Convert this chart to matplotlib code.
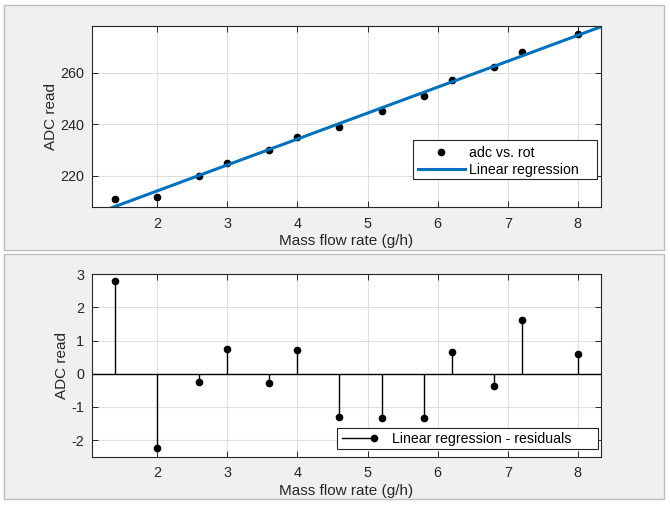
import numpy as np
import matplotlib
matplotlib.use("Agg")
import matplotlib.pyplot as plt
from matplotlib.patches import Rectangle
from matplotlib.lines import Line2D
from matplotlib.legend_handler import HandlerBase

plt.rcParams['font.family'] = ['Liberation Sans', 'DejaVu Sans']
plt.rcParams['axes.unicode_minus'] = False  # MATLAB-style "-2" ticks

# data
flow = np.array([1.4, 2.0, 2.6, 3.0, 3.6, 4.0, 4.6, 5.2, 5.8, 6.2, 6.8, 7.2, 8.0])  # g/h
adc = np.array([211, 212, 220, 225, 230, 235, 239, 245, 251, 257, 262, 268, 275])

# linear regression + residuals
slope, icpt = np.polyfit(flow, adc, 1)
resid = adc - (slope * flow + icpt)

xlim = (flow.min() - 0.05 * np.ptp(flow), flow.max() + 0.05 * np.ptp(flow))
xfit = np.linspace(xlim[0], xlim[1], 100)

W, H = 670, 507
fig = plt.figure(figsize=(W / 100, H / 100), dpi=100)
fig.patch.set_facecolor('white')

# grey panels behind each plot
for top, bot in [(5, 250), (254, 499)]:
    fig.add_artist(Rectangle((4 / W, 1 - bot / H), 660 / W, (bot - top) / H,
                             transform=fig.transFigure, facecolor='#f0f0f0',
                             edgecolor='#bdbdbd', linewidth=1.0, zorder=-10))

dark = '#262626'


def style(ax):
    ax.set_xlim(*xlim)
    ax.set_xticks([2, 3, 4, 5, 6, 7, 8])
    ax.grid(True, color='#dfdfdf', linewidth=0.8)
    ax.set_axisbelow(True)
    ax.tick_params(direction='in', length=4, width=0.7, colors=dark, labelsize=10.4,
                   top=True, right=True)
    ax.tick_params(axis='x', pad=7)
    ax.tick_params(axis='y', pad=5.5)
    for s in ax.spines.values():
        s.set_color(dark)
        s.set_linewidth(0.8)
    ax.set_xlabel('Mass flow rate (g/h)', fontsize=11, color=dark, labelpad=2.5)
    ax.set_ylabel('ADC read', fontsize=11, color=dark, labelpad=2)


def frame(ax, x0, x1, y0, y1):
    # legend box drawn by hand: MATLAB leaves extra room on the right
    b = ax.transAxes.inverted().transform
    (ax0, ay0), (ax1, ay1) = b(fig.transFigure.transform((x0 / W, 1 - y1 / H))), \
        b(fig.transFigure.transform((x1 / W, 1 - y0 / H)))
    ax.add_patch(Rectangle((ax0, ay0), ax1 - ax0, ay1 - ay0, transform=ax.transAxes,
                           facecolor='white', edgecolor=dark, linewidth=0.8,
                           zorder=4.9, clip_on=False))


def anchor(ax, x, y):
    return ax.transAxes.inverted().transform(fig.transFigure.transform((x / W, 1 - y / H)))


# --- top: data + fit
ax1 = fig.add_axes([92 / W, 1 - 207 / H, 509 / W, 181 / H])
ax1.plot(flow, adc, 'o', color='k', markersize=4.5, label='adc vs. rot')
ax1.plot(xfit, slope * xfit + icpt, color='#0072BD', linewidth=2.2, label='Linear regression')
ax1.set_ylim(208, 278)
ax1.set_yticks([220, 240, 260])
style(ax1)
frame(ax1, 413, 597, 140, 179)
leg1 = ax1.legend(loc='upper left', bbox_to_anchor=anchor(ax1, 418, 146), borderaxespad=0,
                  fontsize=10.2, frameon=False, handlelength=3.3, handletextpad=0.3,
                  labelspacing=0.2, borderpad=0, numpoints=1, labelcolor='k')


# --- bottom: residuals as stems
class StemHandler(HandlerBase):
    # horizontal line with the dot at its right end, like a MATLAB stem legend
    def create_artists(self, legend, orig_handle, xdescent, ydescent, width, height,
                       fontsize, trans):
        y = height / 2 - ydescent
        line = Line2D([-xdescent, width - xdescent], [y, y], color='k', linewidth=1)
        dot = Line2D([width - xdescent], [y], color='k', marker='o', markersize=4.5,
                     linestyle='none')
        line.set_transform(trans)
        dot.set_transform(trans)
        return [line, dot]


ax2 = fig.add_axes([92 / W, 1 - 456.7 / H, 509 / W, 182.4 / H])
ax2.axhline(0, color='k', linewidth=1)
ax2.vlines(flow, 0, resid, color='k', linewidth=1)
ax2.plot(flow, resid, 'o', color='k', markersize=4.5)
ax2.set_ylim(-2.5, 3)
ax2.set_yticks([-2, -1, 0, 1, 2, 3])
style(ax2)
frame(ax2, 337, 598, 428, 448.5)
h = Line2D([], [], color='k', linewidth=1, marker='o', markersize=4.5)
leg2 = ax2.legend([h], ['Linear regression - residuals'], loc='upper left',
                  bbox_to_anchor=anchor(ax2, 341.7, 431.5), borderaxespad=0, fontsize=10.2,
                  frameon=False, handlelength=2.27, handletextpad=1.3, borderpad=0,
                  labelcolor='k', handler_map={h: StemHandler()})

fig.savefig('out.png', dpi=100)
